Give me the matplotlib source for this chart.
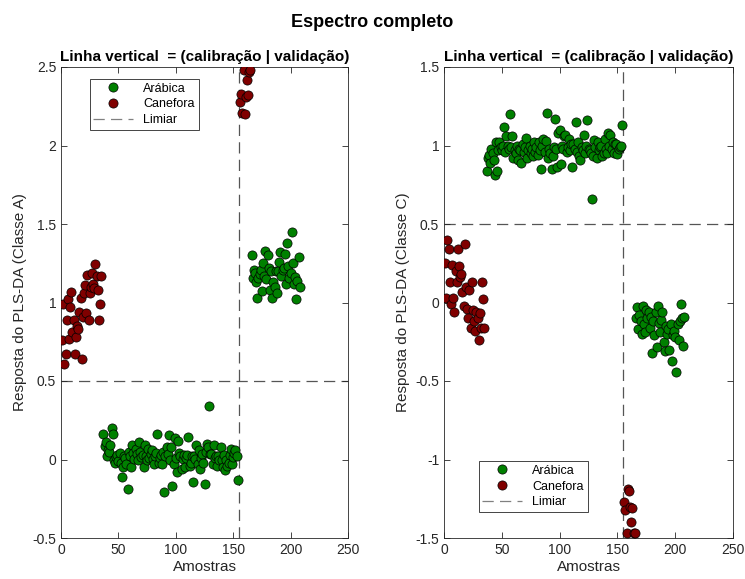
import numpy as np
import matplotlib.pyplot as plt
from matplotlib.lines import Line2D

plt.rcParams['font.family'] = ['Liberation Sans', 'DejaVu Sans']

# sample numbers (calibration 1-154, validation 156-208)
x_can_cal = np.arange(1, 36)
x_ara_cal = np.arange(37, 155)
x_can_val = np.arange(156, 166)
x_ara_val = np.arange(166, 209)
split_x = 155
threshold = 0.5

# response for class A (left panel)
a_can_cal = [0.76, 0.99, 0.61, 0.67, 0.89, 1.02, 0.77, 0.97, 1.07, 0.81, 0.89, 0.67,
             0.78, 0.85, 0.83, 0.94, 1.03, 0.64, 0.91, 1.06, 1.11, 0.93, 1.175, 0.89,
             1.06, 1.10, 1.19, 1.12, 1.09, 1.247, 1.17, 1.08, 0.89, 0.99, 1.17]
a_ara_cal = [0.16, 0.085, 0.11, 0.025, 0.06, 0.05, 0.09, 0.20, 0.16, 0.00,
             -0.02, 0.015, 0.03, -0.01, 0.04, -0.02, -0.11, -0.05, 0.02, 0.01,
             -0.03, -0.19, 0.05, 0.02, -0.05, 0.09, 0.04, 0.005, 0.07, 0.035,
             -0.005, 0.11, 0.05, 0.015, 0.03, -0.045, 0.09, 0.02, -0.003, 0.07,
             0.01, 0.035, 0.06, 0.005, -0.03, 0.02, 0.04, 0.16, -0.02, 0.01,
             0.03, -0.03, 0.05, -0.21, 0.02, 0.08, 0.035, 0.155, 0.00, 0.08,
             -0.17, -0.03, 0.14, 0.01, -0.08, 0.12, 0.04, 0.025, -0.06, 0.005,
             0.03, -0.05, 0.01, 0.03, 0.145, -0.04, -0.02, 0.025, -0.145, 0.02,
             0.005, 0.09, -0.03, 0.06, -0.06, 0.01, 0.035, -0.02, -0.155, 0.05,
             0.10, 0.08, 0.34, 0.035, 0.035, -0.03, 0.09, 0.01, 0.025, -0.04,
             0.02, 0.00, 0.08, -0.005, -0.05, 0.03, -0.07, 0.00, -0.04, -0.02,
             0.03, 0.07, -0.03, 0.015, 0.04, 0.06, 0.02, -0.13]
a_can_val = [2.28, 2.33, 2.21, 2.48, 2.20, 2.31, 2.42, 2.32, 2.47, 2.48]
a_ara_val = [1.30, 1.155, 1.21, 1.19, 1.13, 1.03, 1.155, 1.18, 1.21, 1.075, 1.25,
             1.17, 1.33, 1.15, 1.30, 1.22, 1.08, 1.20, 1.03, 1.13, 1.10, 1.20,
             1.06, 1.20, 1.26, 1.32, 1.17, 1.21, 1.22, 1.31, 1.12, 1.38, 1.23,
             1.155, 1.19, 1.447, 1.25, 1.12, 1.16, 1.02, 1.14, 1.29, 1.10]

# response for class C (right panel)
c_can_cal = [0.25, 0.03, 0.40, 0.34, 0.13, -0.01, 0.24, 0.03, -0.06, 0.20, 0.13, 0.34,
             0.23, 0.16, 0.18, 0.07, -0.02, 0.37, 0.10, -0.04, -0.10, 0.08, -0.16,
             0.13, -0.05, -0.12, -0.18, -0.06, -0.10, -0.24, -0.07, -0.16, 0.13,
             0.02, -0.16]
c_ara_cal = [0.84, 0.92, 0.94, 0.89, 0.98, 0.95, 0.91, 0.81, 1.02, 0.84,
             0.97, 1.02, 0.99, 0.97, 1.00, 1.12, 0.96, 1.06, 1.00, 0.98,
             1.20, 0.99, 1.06, 0.92, 0.97, 0.95, 1.00, 0.91, 0.98, 0.97,
             0.89, 1.01, 0.96, 0.99, 1.05, 0.92, 0.97, 1.00, 0.95, 0.98,
             0.93, 1.02, 0.96, 0.99, 0.94, 1.02, 0.97, 0.85, 1.00, 1.04,
             0.96, 1.03, 1.21, 0.92, 0.98, 0.95, 0.85, 0.93, 0.99, 1.17,
             0.98, 0.86, 1.08, 1.10, 0.88, 1.00, 0.98, 1.06, 1.07, 0.96,
             0.99, 1.04, 0.97, 1.01, 0.86, 1.01, 0.98, 1.15, 0.96, 1.02,
             0.93, 0.91, 0.99, 0.97, 1.07, 0.95, 1.00, 1.16, 0.98, 0.97,
             0.95, 0.66, 0.93, 1.035, 0.99, 0.92, 1.02, 0.97, 0.99, 1.00,
             0.93, 0.95, 1.04, 0.98, 0.95, 1.08, 1.00, 1.07, 0.98, 1.02,
             0.95, 1.01, 1.01, 0.945, 0.98, 0.99, 1.00, 1.13]
c_can_val = [-1.27, -1.32, -1.47, -1.19, -1.20, -1.30, -1.40, -1.31, -1.47, -1.465]
c_ara_val = [-0.10, -0.03, -0.17, -0.08, -0.12, -0.20, -0.02, -0.14, -0.19, -0.05,
             -0.10, -0.06, -0.16, -0.09, -0.32, -0.12, -0.21, -0.06, -0.285, -0.02,
             -0.13, -0.19, -0.11, -0.06, -0.25, -0.31, -0.15, -0.20, -0.17, -0.30,
             -0.14, -0.37, -0.21, -0.18, -0.22, -0.44, -0.14, -0.24, -0.12, -0.01,
             -0.10, -0.28, -0.095]

green = '#008000'
red = '#800000'
line_col = '#555555'
txt_col = '#262626'

fig = plt.figure(figsize=(7.45, 5.79), dpi=100)
ax1 = fig.add_axes([61/745, 41/579, 287/745, 471/579])
ax2 = fig.add_axes([444/745, 41/579, 289/745, 471/579])


def draw_panel(ax, can_cal, ara_cal, can_val, ara_val, ylim, ylabel):
    ax.axhline(threshold, color=line_col, ls=(0, (9, 5)), lw=0.9, zorder=1)
    ax.axvline(split_x, color=line_col, ls=(0, (9, 5)), lw=0.9, zorder=1)
    mk = dict(ls='none', marker='o', ms=6.6, mec='black', mew=0.5, zorder=3)
    ax.plot(np.r_[x_ara_cal, x_ara_val], np.r_[ara_cal, ara_val], mfc=green, **mk)
    ax.plot(np.r_[x_can_cal, x_can_val], np.r_[can_cal, can_val], mfc=red, **mk)
    ax.set_xlim(0, 250)
    ax.set_ylim(*ylim)
    ax.set_xticks([0, 50, 100, 150, 200, 250])
    yt = np.arange(ylim[0], ylim[1] + 0.01, 0.5)
    ax.set_yticks(yt)
    ax.set_yticklabels(['%g' % v for v in yt])
    ax.tick_params(direction='in', length=4, width=0.6, top=True, right=True,
                   labelsize=10, colors=txt_col, labelcolor=txt_col)
    for s in ax.spines.values():
        s.set_linewidth(0.6)
        s.set_color(txt_col)
    ax.set_xlabel('Amostras', fontsize=11, color=txt_col, labelpad=2)
    ax.set_ylabel(ylabel, fontsize=11, color=txt_col, labelpad=4)
    ax.set_title('Linha vertical  = (calibração | validação)', fontsize=11,
                 fontweight='bold', pad=4)


draw_panel(ax1, a_can_cal, a_ara_cal, a_can_val, a_ara_val, (-0.5, 2.5),
           'Resposta do PLS-DA (Classe A)')
draw_panel(ax2, c_can_cal, c_ara_cal, c_can_val, c_ara_val, (-1.5, 1.5),
           'Resposta do PLS-DA (Classe C)')

handles = [
    Line2D([], [], ls='none', marker='o', ms=6.6, mfc=green, mec='black', mew=0.5),
    Line2D([], [], ls='none', marker='o', ms=6.6, mfc=red, mec='black', mew=0.5),
    Line2D([], [], color='#808080', ls=(0, (9, 5)), lw=0.9),
]
labels = ['Arábica', 'Canefora', 'Limiar']
leg_kw = dict(fontsize=9, frameon=True, fancybox=False, framealpha=1,
              edgecolor=txt_col, handlelength=3.2, borderaxespad=0,
              labelspacing=0.3, borderpad=0.3)
l1 = ax1.legend(handles, labels, loc='upper left', bbox_to_anchor=(0.10, 0.975), **leg_kw)
l2 = ax2.legend(handles, labels, loc='lower left', bbox_to_anchor=(0.12, 0.055), **leg_kw)
for lg in (l1, l2):
    lg.get_frame().set_linewidth(0.6)

fig.suptitle('Espectro completo', fontsize=13, fontweight='bold', y=0.962, va='center')

fig.savefig('out.png', dpi=100, facecolor='white')
